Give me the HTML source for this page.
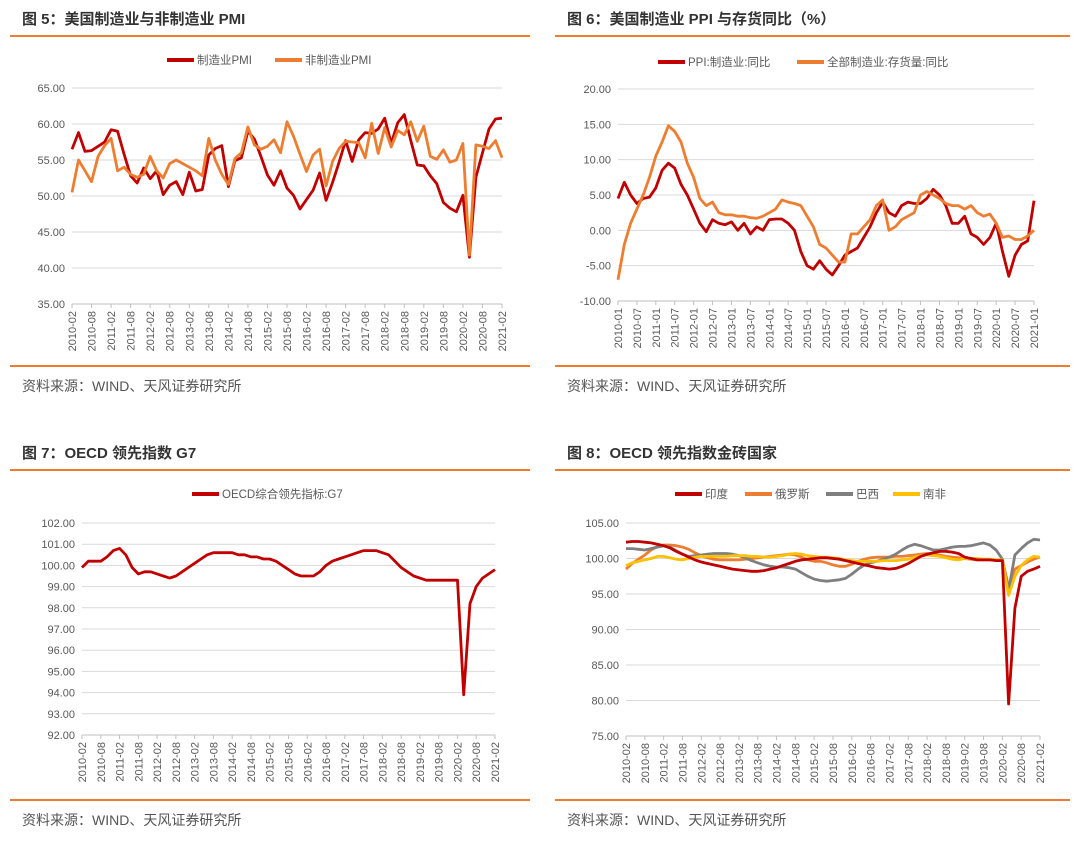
<!DOCTYPE html>
<html><head><meta charset="utf-8"><style>
body{margin:0;background:#fff}
svg{display:block;font-family:"Liberation Sans","Noto Sans CJK SC",sans-serif}
</style></head><body>
<svg id="s" width="1080" height="841" viewBox="0 0 1080 841">
<g>
<text x="22" y="24" font-size="15" font-weight="bold" fill="#333">图 5：美国制造业与非制造业 PMI</text>
<line x1="10" y1="36" x2="530" y2="36" stroke="#ED7D31" stroke-width="2"/>
<line x1="10" y1="366" x2="530" y2="366" stroke="#ED7D31" stroke-width="2"/>
<text x="22" y="391" font-size="14" fill="#555">资料来源：WIND、天风证券研究所</text>
</g>
<g>
<text x="567" y="24" font-size="15" font-weight="bold" fill="#333">图 6：美国制造业 PPI 与存货同比（%）</text>
<line x1="555" y1="36" x2="1070" y2="36" stroke="#ED7D31" stroke-width="2"/>
<line x1="555" y1="366" x2="1070" y2="366" stroke="#ED7D31" stroke-width="2"/>
<text x="567" y="391" font-size="14" fill="#555">资料来源：WIND、天风证券研究所</text>
</g>
<g>
<text x="22" y="458" font-size="15" font-weight="bold" fill="#333">图 7：OECD 领先指数 G7</text>
<line x1="10" y1="470" x2="530" y2="470" stroke="#ED7D31" stroke-width="2"/>
<line x1="10" y1="800" x2="530" y2="800" stroke="#ED7D31" stroke-width="2"/>
<text x="22" y="825" font-size="14" fill="#555">资料来源：WIND、天风证券研究所</text>
</g>
<g>
<text x="567" y="458" font-size="15" font-weight="bold" fill="#333">图 8：OECD 领先指数金砖国家</text>
<line x1="555" y1="470" x2="1070" y2="470" stroke="#ED7D31" stroke-width="2"/>
<line x1="555" y1="800" x2="1070" y2="800" stroke="#ED7D31" stroke-width="2"/>
<text x="567" y="825" font-size="14" fill="#555">资料来源：WIND、天风证券研究所</text>
</g>
</svg>
<script>
// Data: bimonthly points
const pmiTicks = ["2010-02","2010-08","2011-02","2011-08","2012-02","2012-08","2013-02","2013-08","2014-02","2014-08","2015-02","2015-08","2016-02","2016-08","2017-02","2017-08","2018-02","2018-08","2019-02","2019-08","2020-02","2020-08","2021-02"];
const ppiTicks = ["2010-01","2010-07","2011-01","2011-07","2012-01","2012-07","2013-01","2013-07","2014-01","2014-07","2015-01","2015-07","2016-01","2016-07","2017-01","2017-07","2018-01","2018-07","2019-01","2019-07","2020-01","2020-07","2021-01"];
const mfgPMI = [56.5,58.8,56.2,56.3,56.9,57.5, 59.2,59.0,55.8,52.8,51.8,53.9, 52.4,53.5,50.2,51.5,52.0,50.2, 53.3,50.7,50.9,55.7,56.6,57.0, 51.3,54.9,55.3,59.0,57.9,55.5, 52.9,51.5,53.5,51.1,50.1,48.2, 49.5,50.8,53.2,49.4,51.9,54.7, 57.7,54.8,57.8,58.8,58.7,59.3, 60.8,57.3,60.2,61.3,57.7,54.3, 54.2,52.8,51.7,49.1,48.3,47.8, 50.1,41.5,52.6,56.0,59.3,60.7,60.8];
const nonMfgPMI = [50.5,55.0,53.5,52.0,55.5,57.0, 58.0,53.5,54.0,53.0,52.6,53.0, 55.5,53.5,52.5,54.5,55.0,54.5, 54.0,53.5,52.8,58.0,55.0,53.0, 51.6,55.2,56.0,59.6,57.1,56.5, 56.9,57.8,56.0,60.3,58.3,55.8, 53.4,55.7,56.5,51.4,54.8,56.6, 57.6,57.5,57.4,55.3,60.1,55.9, 59.5,56.8,59.1,58.5,60.3,57.6, 59.7,55.5,55.1,56.4,54.7,55.0, 57.3,41.8,57.1,56.9,56.6,57.7,55.3];
const ppiYoY = [4.5,6.8,5.0,3.8,4.5,4.7, 6.0,8.5,9.5,8.8,6.5,5.0, 3.0,1.0,-0.2,1.5,1.0,0.8, 1.2,0.0,1.0,-0.5,0.5,0.0, 1.5,1.6,1.6,1.0,0.0,-3.0, -5.0,-5.5,-4.3,-5.5,-6.3,-5.0, -3.5,-3.0,-2.5,-1.0,0.5,2.5, 4.0,2.5,2.0,3.5,4.0,3.8, 3.8,4.5,5.8,5.0,3.5,1.0, 1.0,2.0,-0.5,-1.0,-2.0,-1.0, 1.0,-3.0,-6.5,-3.5,-2.0,-1.5,4.2];
const invYoY = [-7,-2,1,3,5,7.5, 10.5,12.5,14.8,14.0,12.5,9.5, 7.5,4.5,3.5,4.0,2.5,2.2, 2.2,2.0,2.0,1.8,1.7,2.0, 2.5,3.0,4.3,4.0,3.8,3.5, 2.0,0.5,-2.0,-2.5,-3.5,-4.5, -4.5,-0.5,-0.5,0.5,1.5,3.5, 4.3,0.0,0.5,1.5,2.0,2.5, 5.0,5.5,5.0,4.5,3.8,3.5, 3.5,3.0,3.5,2.5,2.0,2.3, 1.0,-1.0,-0.8,-1.3,-1.3,-0.8,0.0];
const g7CLI = [99.9,100.2,100.2,100.2,100.4,100.7, 100.8,100.5,99.9,99.6,99.7,99.7, 99.6,99.5,99.4,99.5,99.7,99.9, 100.1,100.3,100.5,100.6,100.6,100.6, 100.6,100.5,100.5,100.4,100.4,100.3, 100.3,100.2,100.0,99.8,99.6,99.5, 99.5,99.5,99.7,100.0,100.2,100.3, 100.4,100.5,100.6,100.7,100.7,100.7, 100.6,100.5,100.2,99.9,99.7,99.5, 99.4,99.3,99.3,99.3,99.3,99.3, 99.3,93.9,98.2,99.0,99.4,99.6,99.8];
const indiaCLI = [102.3,102.4,102.4,102.3,102.2,102.0, 101.8,101.5,101.0,100.6,100.2,99.8, 99.5,99.3,99.1,98.9,98.7,98.5, 98.4,98.3,98.2,98.2,98.3,98.5, 98.7,99.0,99.3,99.6,99.8,99.9, 100.0,100.1,100.1,100.0,99.9,99.7, 99.5,99.3,99.1,98.9,98.7,98.6, 98.5,98.6,98.9,99.3,99.8,100.3, 100.6,100.8,101.0,101.0,100.9,100.7, 100.2,100.0,99.8,99.8,99.8,99.7, 99.7,79.5,93.0,97.5,98.2,98.5,98.9];
const russiaCLI = [98.5,99.3,99.9,100.5,101.2,101.7, 101.9,101.9,101.8,101.6,101.3,100.8, 100.4,100.1,99.9,99.8,99.8,99.8, 99.8,99.9,100.0,100.1,100.2,100.3, 100.4,100.5,100.6,100.5,100.2,99.8, 99.6,99.6,99.4,99.1,98.9,98.9, 99.2,99.6,99.9,100.1,100.2,100.2, 100.2,100.3,100.3,100.4,100.5,100.6, 100.7,100.6,100.5,100.3,100.2,100.1, 100.0,99.9,99.8,99.8,99.8,99.8, 99.8,96.0,98.5,99.0,99.5,99.9,100.2];
const brazilCLI = [101.4,101.4,101.3,101.2,101.4,101.6, 101.8,101.6,101.1,100.6,100.3,100.4, 100.5,100.6,100.7,100.7,100.7,100.6, 100.4,100.1,99.7,99.4,99.1,98.9, 98.8,98.8,98.7,98.5,98.0,97.5, 97.1,96.9,96.8,96.9,97.0,97.2, 97.8,98.5,99.1,99.4,99.6,99.9, 100.2,100.6,101.2,101.7,102.0,101.8, 101.5,101.2,101.2,101.4,101.6,101.7, 101.7,101.8,102.0,102.2,101.9,101.2, 99.9,95.5,100.5,101.4,102.2,102.7,102.6];
const safricaCLI = [99.0,99.4,99.6,99.8,100.0,100.3, 100.3,100.1,99.9,99.8,100.0,100.2, 100.3,100.3,100.3,100.3,100.3,100.4, 100.4,100.4,100.3,100.3,100.2,100.2, 100.3,100.4,100.6,100.7,100.6,100.4, 100.3,100.2,100.2,100.1,100.0,99.8, 99.7,99.6,99.6,99.6,99.6,99.7, 99.7,99.7,99.8,99.9,100.2,100.4, 100.5,100.4,100.3,100.1,99.9,99.8, 100.0,100.0,100.0,99.9,99.9,99.8, 99.8,94.8,97.5,99.0,99.8,100.3,100.2];

const NS='http://www.w3.org/2000/svg';
const svg=document.getElementById('s');
function mk(tag,attrs,parent){const e=document.createElementNS(NS,tag);for(const k in attrs)e.setAttribute(k,attrs[k]);(parent||svg).appendChild(e);return e;}

function chart(c){
  const g=mk('g',{});
  
  
  const n=c.series[0].data.length;
  const xS=i=>c.x0+(c.x1-c.x0)*i/(n-1);
  const yS=v=>c.yb+(c.yt-c.yb)*(v-c.ymin)/(c.ymax-c.ymin);
  for(let v=c.ymin;v<=c.ymax+1e-9;v+=c.step){
    const y=yS(v);
    if(v>c.ymin){const gl=mk('line',{x1:c.x0,x2:c.x1,y1:y,y2:y,stroke:'#d9d9d9','stroke-width':1},g);
      
      }
    const t=mk('text',{x:c.x0-7,y:y+4,'font-size':11,fill:'#595959','text-anchor':'end'},g);
    t.textContent=v.toFixed(2);
    
    
  }
  const ax=mk('line',{x1:c.x0,x2:c.x1,y1:c.yb,y2:c.yb,stroke:'#bfbfbf','stroke-width':1},g);
  
  
  const nt=c.ticks.length;
  c.ticks.forEach((lab,k)=>{
    const x=c.x0+(c.x1-c.x0)*k/(nt-1);
    mk('line',{x1:x,x2:x,y1:c.yb,y2:c.yb+4,stroke:'#bfbfbf'},g);
    const t=mk('text',{x:0,y:0,'font-size':11,fill:'#595959','text-anchor':'end',transform:`translate(${x+4},${c.yb+7}) rotate(-90)`},g);
    t.textContent=lab;
    
    
  });
  c.series.forEach(s=>{
    const p=mk('polyline',{points:s.data.map((v,i)=>xS(i).toFixed(1)+','+yS(v).toFixed(1)).join(' '),fill:'none',stroke:s.color,'stroke-width':2.8,'stroke-linejoin':'round'},g);
    
    
  });
  c.series.forEach(s=>{
    const lg=mk('g',{},g);
    
    
    mk('line',{x1:s.lx,x2:s.lx+27,y1:c.ly,y2:c.ly,stroke:s.color,'stroke-width':4},lg);
    const t=mk('text',{x:s.lx+30,y:c.ly+4,'font-size':11.5,fill:'#595959'},lg);
    t.textContent=s.label;
  });
}
chart({name:'chart5-pmi',x0:72,x1:502,yt:88,yb:304,ymin:35,ymax:65,step:5,ticks:pmiTicks,ly:60,
  series:[{id:'mfg-pmi',label:'制造业PMI',data:mfgPMI,color:'#C00000',lx:167},
          {id:'nonmfg-pmi',label:'非制造业PMI',data:nonMfgPMI,color:'#ED7D31',lx:275}]});
chart({name:'chart6-ppi',x0:618,x1:1034,yt:89,yb:301,ymin:-10,ymax:20,step:5,ticks:ppiTicks,ly:62,
  series:[{id:'ppi-yoy',label:'PPI:制造业:同比',data:ppiYoY,color:'#C00000',lx:658},
          {id:'inventory-yoy',label:'全部制造业:存货量:同比',data:invYoY,color:'#ED7D31',lx:797}]});
chart({name:'chart7-g7',x0:82,x1:495,yt:523,yb:735,ymin:92,ymax:102,step:1,ticks:pmiTicks,ly:494,
  series:[{id:'g7-cli',label:'OECD综合领先指标:G7',data:g7CLI,color:'#C00000',lx:192}]});
chart({name:'chart8-brics',x0:626,x1:1040,yt:523,yb:736,ymin:75,ymax:105,step:5,ticks:pmiTicks,ly:494,
  series:[{id:'russia',label:'俄罗斯',data:russiaCLI,color:'#ED7D31',lx:745},
          {id:'brazil',label:'巴西',data:brazilCLI,color:'#7F7F7F',lx:826},
          {id:'south-africa',label:'南非',data:safricaCLI,color:'#FFC000',lx:893},
          {id:'india',label:'印度',data:indiaCLI,color:'#C00000',lx:675}]});
</script>
</body></html>
